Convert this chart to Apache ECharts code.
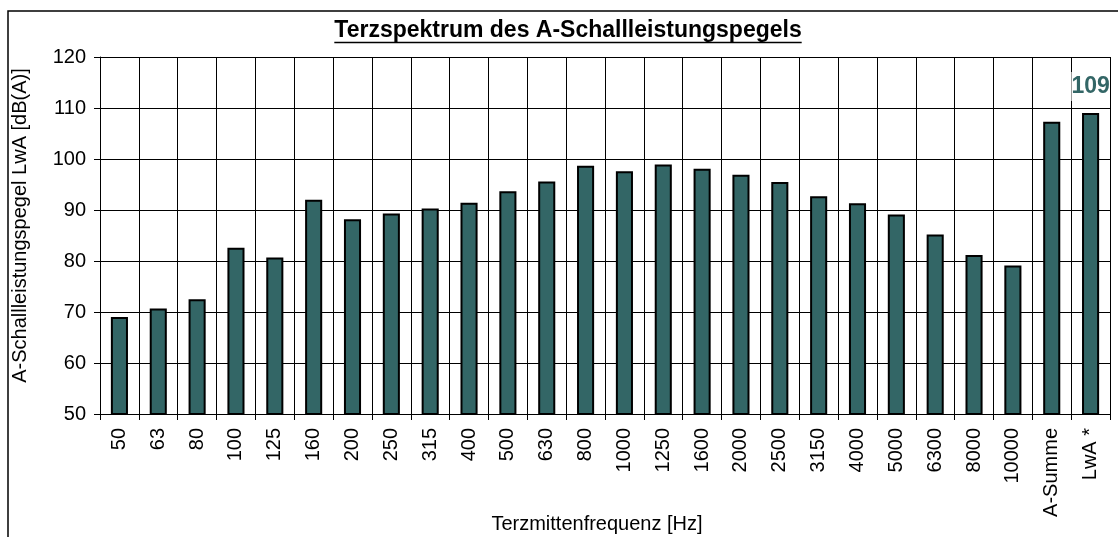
<!DOCTYPE html>
<html>
<head>
<meta charset="utf-8">
<script src="https://cdn.jsdelivr.net/npm/echarts@6/dist/echarts.min.js"></script>
<style>
  html, body { margin: 0; padding: 0; background: #fff; }
  #chart { width: 1118px; height: 537px; }
</style>
</head>
<body>
<div id="chart"></div>
<script>
// Terzbänder und Summenpegel
const frequencies = ['50', '63', '80', '100', '125', '160', '200', '250', '315', '400',
  '500', '630', '800', '1000', '1250', '1600', '2000', '2500', '3150', '4000',
  '5000', '6300', '8000', '10000', 'A-Summe', 'LwA *'];

// A-bewertete Schallleistungspegel je Terzband in dB(A)
const levels = [69.0, 70.7, 72.5, 82.6, 80.7, 92.0, 88.2, 89.3, 90.3, 91.4,
  93.7, 95.6, 98.7, 97.6, 98.9, 98.1, 96.9, 95.5, 92.7, 91.3,
  89.1, 85.2, 81.2, 79.1, 107.3, 109];

// Nur der Gesamtpegel LwA * bekommt eine Beschriftung
const labelledIndex = frequencies.indexOf('LwA *');

const yTicks = { min: 50, max: 120, interval: 10 };

const titleText = 'Terzspektrum des A-Schallleistungspegels';
const FONT = '"Liberation Sans", Arial, sans-serif';
const titleFont = 'bold 23px ' + FONT;

// Breite des Titels messen, damit die Unterstreichung passt
const ctx = document.createElement('canvas').getContext('2d');
ctx.font = titleFont;
const titleWidth = ctx.measureText(titleText).width;
const titleCenter = 568;

const chart = echarts.init(document.getElementById('chart'), null, { renderer: 'canvas' });

const option = {
  backgroundColor: '#fff',
  animation: false,
  graphic: [
    {
      type: 'rect', silent: true, z: -1,
      shape: { x: 8, y: 11, width: 1200, height: 600 },
      style: { fill: 'none', stroke: '#000', lineWidth: 1.5 }
    },
    {
      type: 'text', silent: true,
      x: titleCenter, y: 31,
      style: { text: titleText, font: titleFont, fill: '#000', align: 'center', verticalAlign: 'middle' }
    },
    {
      type: 'line', silent: true,
      shape: { x1: titleCenter - titleWidth / 2, y1: 42.5, x2: titleCenter + titleWidth / 2, y2: 42.5 },
      style: { stroke: '#000', lineWidth: 1.5 }
    }
  ],
  grid: { left: 100, right: 8, top: 57, bottom: 123, containLabel: false, outerBoundsMode: 'none' },
  xAxis: {
    type: 'category',
    data: frequencies,
    name: 'Terzmittenfrequenz [Hz]',
    nameLocation: 'middle',
    nameGap: 100,
    nameMoveOverlap: false,
    nameTextStyle: { fontFamily: FONT, fontSize: 20, color: '#000', padding: [0, 16, 0, 0] },
    axisLine: { show: true, lineStyle: { color: '#000', width: 1 } },
    axisTick: { show: true, length: 6, inside: false, alignWithLabel: false, lineStyle: { color: '#000' } },
    axisLabel: { rotate: 90, margin: 14, interval: 0, fontFamily: FONT, fontSize: 20, color: '#000' },
    splitLine: { show: true, lineStyle: { color: '#000', width: 1 } }
  },
  yAxis: {
    type: 'value',
    min: yTicks.min, max: yTicks.max, interval: yTicks.interval,
    name: 'A-Schallleistungspegel LwA [dB(A)]',
    nameLocation: 'middle',
    nameRotate: 90,
    nameGap: 70,
    nameMoveOverlap: false,
    nameTextStyle: { fontFamily: FONT, fontSize: 20, color: '#000', padding: [0, 0, 0, 20] },
    axisLine: { show: true, lineStyle: { color: '#000', width: 1 } },
    axisTick: { show: true, length: 6, lineStyle: { color: '#000' } },
    axisLabel: { margin: 14, fontFamily: FONT, fontSize: 20, color: '#000' },
    splitLine: { show: true, lineStyle: { color: '#000', width: 1 } }
  },
  series: [{
    type: 'bar',
    data: levels.map((v, i) => i === labelledIndex ? {
      value: v,
      label: {
        show: true, position: 'top', distance: 12,
        formatter: p => Math.round(p.value).toString(),
        fontFamily: FONT, fontSize: 23, fontWeight: 'bold', color: '#336666',
        backgroundColor: '#fff', padding: [3, 0, 3, 0]
      }
    } : v),
    barWidth: '44%',
    itemStyle: { color: '#336666', borderColor: '#000', borderWidth: 2 }
  }]
};

chart.setOption(option);
</script>
</body>
</html>
